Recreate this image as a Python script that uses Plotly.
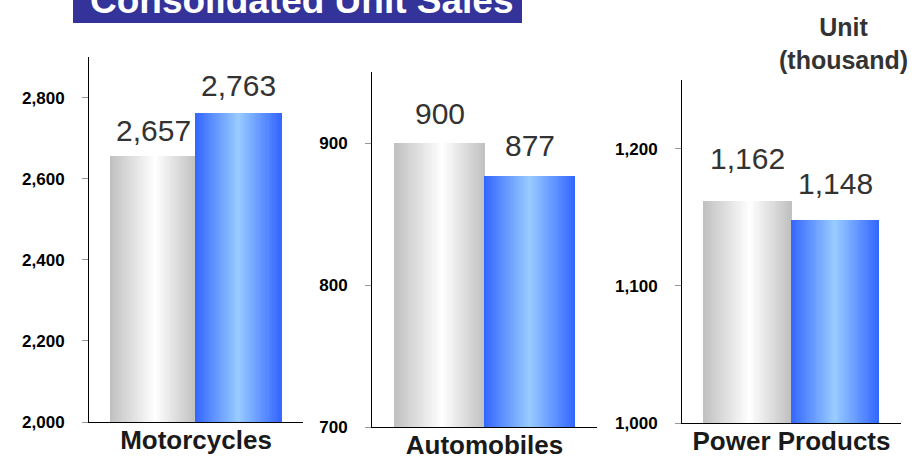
import plotly.graph_objects as go

# data
categories = ["Motorcycles", "Automobiles", "Power Products"]
prev_units = [2657, 900, 1162]   # gray bars
curr_units = [2763, 877, 1148]   # blue bars
y_ranges = [[2000, 2900], [700, 950], [1000, 1250]]
y_dticks = [200, 100, 100]

W, H = 917, 459

# panel geometry in pixels: (x left, x right, y bottom, y top)
panels = [(89, 303, 422, 57), (372, 597, 427, 72), (682, 901, 423, 80)]
label_gap = [[7, 9], [11, 12], [24, 18]]  # value label lift above bar top, px

GRAY = [(0.0, (192, 192, 192)), (0.53, (255, 255, 255)), (1.0, (192, 192, 192))]
BLUE = [(0.0, (51, 102, 255)), (0.5, (153, 204, 255)), (1.0, (51, 102, 255))]
N_SLICES = 48


def grad_color(stops, t):
    for (t0, c0), (t1, c1) in zip(stops, stops[1:]):
        if t0 <= t <= t1:
            f = (t - t0) / (t1 - t0)
            rgb = [round(a + (b - a) * f) for a, b in zip(c0, c1)]
            return "rgb({},{},{})".format(*rgb)
    return "rgb({},{},{})".format(*stops[-1][1])


def gradient_bar(fig, value, left, right, stops, xa, ya):
    """Draw one bar as many thin vertical slices to fake a horizontal gradient."""
    step = (right - left) / N_SLICES
    xs = [left + step * (i + 0.5) for i in range(N_SLICES)]
    colors = [grad_color(stops, (i + 0.5) / N_SLICES) for i in range(N_SLICES)]
    fig.add_trace(go.Bar(
        x=xs, y=[value] * N_SLICES, width=step * 1.08,
        marker=dict(color=colors, line_width=0),
        xaxis=xa, yaxis=ya, hoverinfo="skip", showlegend=False,
    ))


fig = go.Figure()
layout = {}

for i, cat in enumerate(categories):
    n = "" if i == 0 else str(i + 1)
    xa, ya = "x" + n, "y" + n
    x0, x1, yb, yt = panels[i]
    y_lo, y_hi = y_ranges[i]

    gradient_bar(fig, prev_units[i], -0.4, 0.0, GRAY, xa, ya)
    gradient_bar(fig, curr_units[i], 0.0, 0.4, BLUE, xa, ya)

    layout["xaxis" + n] = dict(
        domain=[x0 / W, x1 / W], range=[-0.5, 0.5], anchor=ya,
        tickvals=[0], ticktext=[cat], ticks="",
        tickfont=dict(size=26, color="#1a1a1a", weight="bold"),
        ticklabelstandoff=-5,
        showline=True, linecolor="black", linewidth=1,
        showgrid=False, zeroline=False, fixedrange=True, automargin=False,
    )
    layout["yaxis" + n] = dict(
        domain=[(H - yb) / H, (H - yt) / H], range=[y_lo, y_hi], anchor=xa,
        dtick=y_dticks[i], tick0=y_lo, tickformat=",",
        ticks="outside", ticklen=6, tickcolor="#999999",
        ticklabelstandoff=14,
        tickfont=dict(size=17, color="black", weight="bold"),
        showline=True, linecolor="black", linewidth=1,
        showgrid=False, zeroline=False, fixedrange=True, automargin=False,
    )

    for x_c, v, gap in [(-0.2, prev_units[i], label_gap[i][0]),
                        (0.2, curr_units[i], label_gap[i][1])]:
        fig.add_annotation(
            x=x_c, y=v, xref=xa, yref=ya, text=f"{v:,}",
            showarrow=False, yanchor="bottom", yshift=gap,
            font=dict(size=30, color="#333333"),
        )

fig.update_layout(**layout)

# title banner at the top, cut off by the page edge
fig.add_shape(type="rect", xref="paper", yref="paper",
              x0=73 / W, x1=522 / W, y0=(H - 23) / H, y1=1.05,
              fillcolor="#333399", line_width=0, layer="below")
fig.add_annotation(
    x=88 / W, y=H / H, xref="paper", yref="paper",
    text="<b>Consolidated Unit Sales</b>", showarrow=False,
    xanchor="left", yanchor="middle",
    font=dict(size=37, color="white"),
)
fig.add_annotation(
    x=843 / W, y=(H - 43) / H, xref="paper", yref="paper",
    text="<b>Unit<br>(thousand)</b>", showarrow=False,
    xanchor="center", yanchor="middle",
    font=dict(size=25, color="#333333"),
)

fig.update_layout(
    width=W, height=H,
    margin=dict(l=0, r=0, t=0, b=0, autoexpand=False),
    paper_bgcolor="white", plot_bgcolor="white",
    font=dict(family="Liberation Sans, Arial, sans-serif"),
    bargap=0, barmode="overlay",
)

# drop the default 8px page margin so the figure fills the window
fig.write_html("out.html",
               config={"displayModeBar": False},
               post_script="document.body.style.margin='0';"
                           "document.body.style.overflow='hidden';")
